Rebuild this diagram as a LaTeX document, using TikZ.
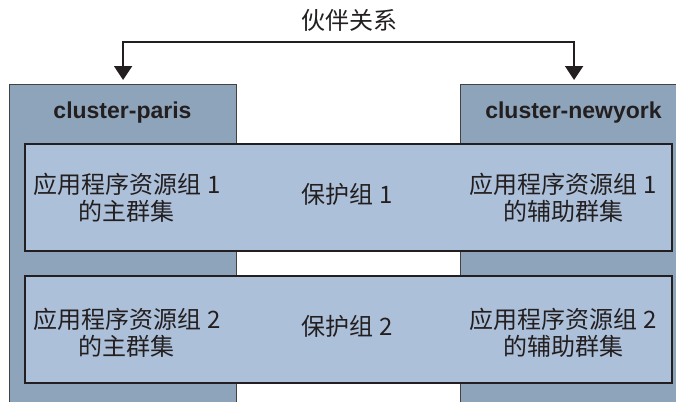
\documentclass[tikz,border=0pt]{standalone}
\usepackage{fontspec}
\setmainfont{Liberation Sans}
\newfontfamily\cjk{Noto Sans CJK SC}
\usetikzlibrary{arrows.meta,positioning}
\definecolor{clusterfill}{HTML}{8EA4BA}
\definecolor{groupfill}{HTML}{ADC0D9}
\definecolor{ink}{HTML}{231F20}
\tikzset{
  cl/.style={rectangle, anchor=north west, minimum width=113.5pt, minimum height=170pt, inner sep=0pt, draw=ink!85, line width=0.6pt, fill=clusterfill},
  clt/.style={anchor=base, text=ink, font=\bfseries\fontsize{11.5}{13}\selectfont},
  pg/.style={rectangle, anchor=north west, minimum width=323.5pt, minimum height=53.5pt, inner sep=0pt, draw=ink, line width=1.1pt, fill=groupfill},
  pgt/.style={align=center, text=ink, inner sep=0pt, font=\cjk\fontsize{12}{13.5}\selectfont},
  rel/.style={{Triangle[width=9pt,length=7pt]}-{Triangle[width=9pt,length=7pt]}, line width=1pt, draw=ink}
}

\begin{document}
\begin{tikzpicture}[x=0.5pt, y=-0.5pt]
  \useasboundingbox (0,0) rectangle (676,402);
  \clip (0,0) rectangle (676,402);
  % clusters
  \node[cl] (paris) at (9,84) {};
  \node[cl] (newyork) at (460,84) {};
  \node[clt] (paristitle) at (122.5,118) {cluster-paris};
  \node[clt] (nytitle) at (573.5,118) {cluster-newyork};
  % protection groups
  \node[pg] (pg1) at (24,143) {};
  \node[pg] (pg2) at (24,275) {};
  \node[pgt] (prim1) at (127,198) {应用程序资源组 1\\的主群集};
  \node[pgt] (pgname1) at (347,194) {保护组 1};
  \node[pgt] (sec1) at (563,198) {应用程序资源组 1\\的辅助群集};
  \node[pgt] (prim2) at (127,333) {应用程序资源组 2\\的主群集};
  \node[pgt] (pgname2) at (347,326) {保护组 2};
  \node[pgt] (sec2) at (563,333) {应用程序资源组 2\\的辅助群集};
  %
  \node[pgt] (partner) at (349,20) {伙伴关系};
  \draw[rel, shorten <=2pt, shorten >=2pt] (paris.north) -- ++(0,-42) -| (newyork.north);
\end{tikzpicture}
\end{document}
